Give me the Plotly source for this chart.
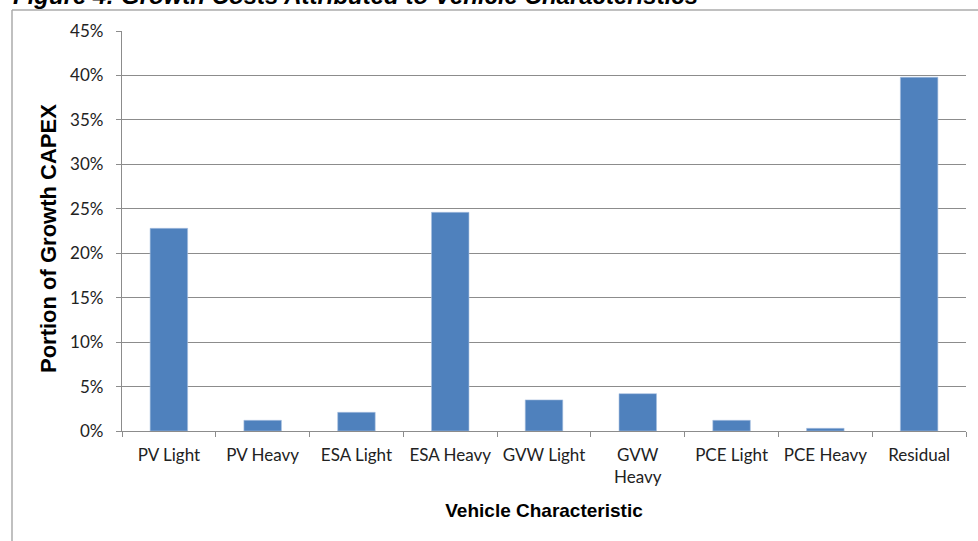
import plotly.graph_objects as go

categories = ["PV Light", "PV Heavy", "ESA Light", "ESA Heavy", "GVW Light",
              "GVW<br>Heavy", "PCE Light", "PCE Heavy", "Residual"]
values = [0.228, 0.012, 0.021, 0.246, 0.035, 0.042, 0.012, 0.003, 0.398]
y_ticks = [0, 0.05, 0.10, 0.15, 0.20, 0.25, 0.30, 0.35, 0.40, 0.45]
y_tick_labels = ["0%", "5%", "10%", "15%", "20%", "25%", "30%", "35%", "40%", "45%"]

W, H = 978, 541
L, R, T, B = 122, 12, 31, 110
pw, ph = W - L - R, H - T - B

def px_x(x):
    return (x - L) / pw

def px_y(y):
    return 1 - (y - T) / ph

fig = go.Figure(go.Bar(
    x=categories, y=values,
    marker=dict(color="#4F81BD", line=dict(color="#A9C1E0", width=0.6)),
))

tick_font = dict(family="Lato, 'Open Sans', sans-serif", size=17, color="#222")
arial = "'Liberation Sans', Arial, sans-serif"

fig.update_layout(
    width=W, height=H,
    margin=dict(l=L, r=R, t=T, b=B),
    paper_bgcolor="white", plot_bgcolor="white",
    bargap=0.6, showlegend=False,
    xaxis=dict(
        showline=True, linecolor="#8c8c8c", linewidth=1.3,
        ticks="outside", tickson="boundaries", ticklen=5, tickcolor="#8c8c8c",
        tickfont=tick_font, showgrid=False, ticklabelstandoff=8,
        title=dict(text="<b>Vehicle Characteristic</b>", font=dict(family=arial, size=19, color="#000"), standoff=18),
    ),
    yaxis=dict(
        range=[0, 0.45], tickvals=y_ticks, ticktext=y_tick_labels,
        showline=True, linecolor="#8c8c8c", linewidth=1.3,
        ticks="outside", ticklen=5, tickcolor="#8c8c8c",
        showgrid=True, gridcolor="#8c8c8c", gridwidth=1.3,
        tickfont=tick_font, zeroline=False, ticklabelstandoff=9,
    ),
    shapes=[
        dict(type="line", xref="paper", yref="paper",
             x0=px_x(12), x1=px_x(12), y0=px_y(10), y1=px_y(560),
             line=dict(color="#ababab", width=1.5)),
        dict(type="line", xref="paper", yref="paper",
             x0=px_x(12), x1=px_x(1000), y0=px_y(10), y1=px_y(10),
             line=dict(color="#ababab", width=1.5)),
    ],
    annotations=[
        dict(text="<b><i>Figure 4: Growth Costs Attributed to Vehicle Characteristics</i></b>",
             xref="paper", yref="paper", x=px_x(11), y=px_y(11),
             xanchor="left", yanchor="bottom", showarrow=False,
             font=dict(family=arial, size=24, color="#000")),
        dict(text="<b>Portion of Growth CAPEX</b>",
             xref="paper", yref="paper", x=px_x(48), y=px_y(239),
             xanchor="center", yanchor="middle", showarrow=False, textangle=-90,
             font=dict(family=arial, size=22, color="#000")),
    ],
)

fig.write_html("out.html")
